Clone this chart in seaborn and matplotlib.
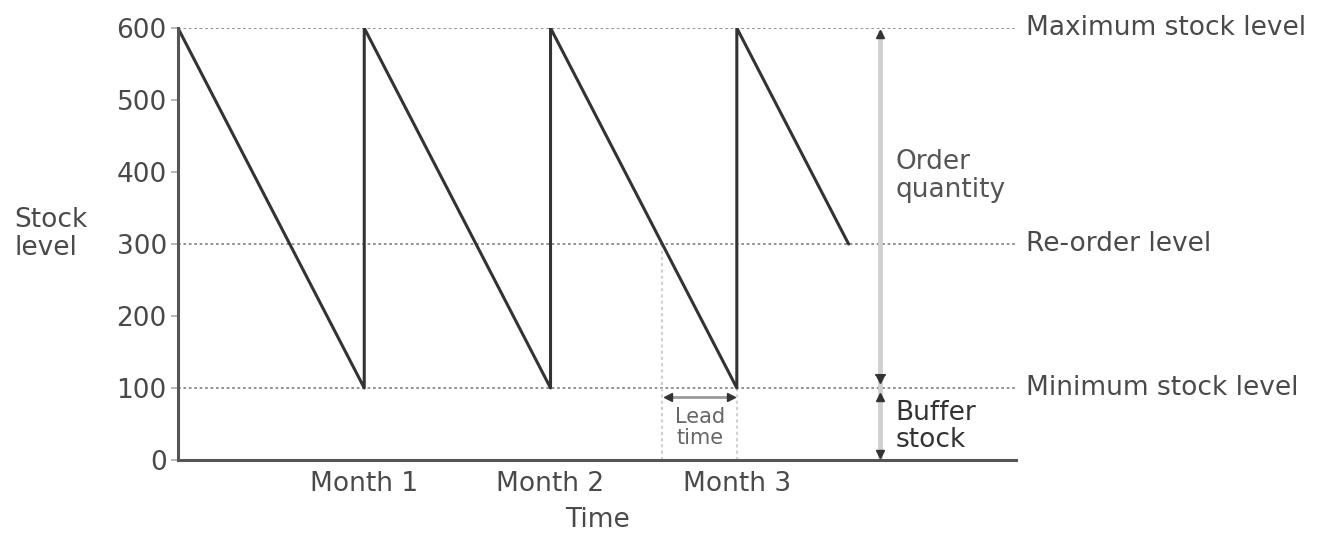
import numpy as np
import pandas as pd
import matplotlib.pyplot as plt
import seaborn as sns

# stock cycle (time in months, stock in units)
time = [0, 1, 1, 2, 2, 3, 3, 3.6]
stock = [600, 100, 600, 100, 600, 100, 600, 300]

max_level = 600
reorder_level = 300
min_level = 100
lead_start, lead_end = 2.6, 3.0
qty_x = 3.77

y_ticks = [0, 100, 200, 300, 400, 500, 600]
month_ticks = [1, 2, 3]
month_labels = ["Month 1", "Month 2", "Month 3"]

sns.set_style("white")
plt.rcParams['font.family'] = ['DejaVu Sans']

txt = "#4a4a4a"
dark = "#333333"
dotted = "#8a8a8a"
light = "#d0d0d0"
fs = 19

fig = plt.figure(figsize=(13.37, 5.39), dpi=100)
ax = fig.add_axes([0.1331, 0.1466, 0.627, 0.8014])

df = pd.DataFrame({"time": time, "stock": stock})
sns.lineplot(data=df, x="time", y="stock", sort=False, estimator=None,
             color=dark, lw=2.2, ax=ax)

# reference levels (dotted)
for lvl in [max_level, reorder_level, min_level]:
    ax.plot([0, 4.5], [lvl, lvl], ls=(0, (1.5, 1.5)), color=dotted, lw=1.3, zorder=1)

# lead time guides
ax.plot([lead_start, lead_start], [0, reorder_level], ls=(0, (1.5, 1.5)), color=light, lw=1.5, zorder=1)
ax.plot([lead_end, lead_end], [0, min_level], ls=(0, (1.5, 1.5)), color=light, lw=1.5, zorder=1)
ax.plot([lead_start + 0.03, lead_end - 0.03], [88, 88], color="#999999", lw=2)
ax.plot([lead_start + 0.03], [88], marker="<", color=dark, ms=6)
ax.plot([lead_end - 0.03], [88], marker=">", color=dark, ms=6)
ax.text((lead_start + lead_end) / 2, 45, "Lead\ntime", ha="center", va="center",
        fontsize=15, color="#666666", linespacing=1.1)

# order quantity / buffer stock arrows
ax.plot([qty_x, qty_x], [2, 594], color=light, lw=3.5, zorder=1)
ax.plot([qty_x], [592], marker="^", color=dark, ms=6)
ax.plot([qty_x], [112], marker="v", color=dark, ms=6)
ax.plot([qty_x - 0.025, qty_x + 0.025], [118, 118], color=dark, lw=1.5)
ax.plot([qty_x], [88], marker="^", color=dark, ms=6)
ax.plot([qty_x], [8], marker="v", color=dark, ms=6)
ax.text(qty_x + 0.08, 395, "Order\nquantity", ha="left", va="center",
        fontsize=fs, color="#555555", linespacing=1.1)
ax.text(qty_x + 0.08, 47, "Buffer\nstock", ha="left", va="center",
        fontsize=fs, color="#333333", linespacing=1.05)

# right-hand labels
for lvl, lab in [(max_level, "Maximum stock level"), (reorder_level, "Re-order level"),
                 (min_level, "Minimum stock level")]:
    ax.text(4.55, lvl, lab, ha="left", va="center", fontsize=fs, color=txt, clip_on=False)

ax.set_xlim(0, 4.5)
ax.set_ylim(0, 600)
ax.set_yticks(y_ticks)
ax.set_yticklabels([str(v) for v in y_ticks], fontsize=fs, color=txt)
ax.set_xticks(month_ticks)
ax.set_xticklabels(month_labels, fontsize=fs, color=txt)
ax.tick_params(axis="y", length=5, width=1.2, color="#aaaaaa", pad=3, left=True)
ax.tick_params(axis="x", length=0, pad=8)
ax.set_xlabel("Time", fontsize=fs, color=txt, labelpad=7)
ax.set_ylabel("")
fig.text(0.011, 0.565, "Stock\nlevel", ha="left", va="center", fontsize=fs,
         color=txt, linespacing=1.1)

for side in ["top", "right"]:
    ax.spines[side].set_visible(False)
for side in ["left", "bottom"]:
    ax.spines[side].set_color("#555555")
    ax.spines[side].set_linewidth(2.2)

fig.savefig("out.png", dpi=100)
